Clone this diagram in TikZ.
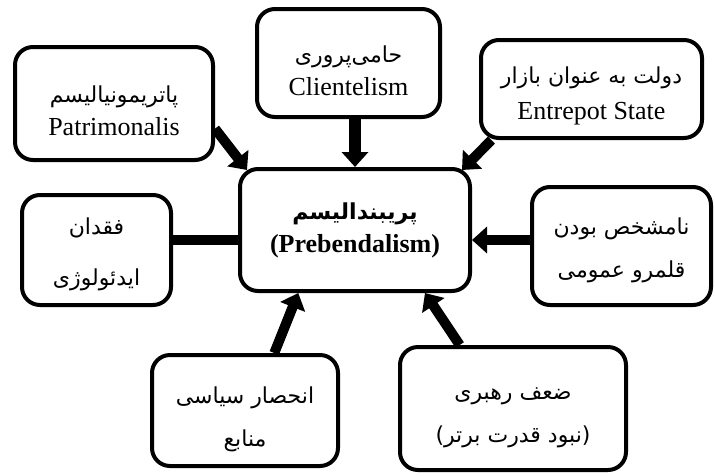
\documentclass[tikz,border=0pt]{standalone}
\usepackage{fontspec}
\setmainfont{Liberation Serif}
\newfontfamily\fa[Script=Arabic]{DejaVu Sans}
\TeXXeTstate=1
\usetikzlibrary{arrows.meta,calc}
\newcommand\fat[1]{{\fa\fontsize{22}{32}\selectfont\beginR #1\endR}}
\begin{document}
\begin{tikzpicture}[x=1pt,y=-1pt,
  box/.style={draw, line width=4pt, rounded corners=18pt, inner sep=0pt},
  txt/.style={align=center, inner sep=0pt, font=\fontsize{26}{33}\selectfont},
  conn/.style={line width=10pt, -{Triangle[length=15pt,width=26pt]}},
  bar/.style={line width=10pt}]
\useasboundingbox (0,0) rectangle (715,475);
% boxes
\node[box, minimum width=198, minimum height=113] (pat) at (114,103.5) {};
\node[box, minimum width=183, minimum height=108] (cli) at (348.5,63) {};
\node[box, minimum width=221, minimum height=98] (ent) at (591.5,89) {};
\node[box, minimum width=149, minimum height=110] (ide) at (96.5,250) {};
\node[box, minimum width=179, minimum height=118] (nam) at (621.5,246) {};
\node[box, minimum width=230, minimum height=122] (main) at (355,230) {};
\node[box, minimum width=186, minimum height=111] (inh) at (245,410.5) {};
\node[box, minimum width=226, minimum height=123] (zof) at (513,408.5) {};
% texts
\node[txt] (patt) at ($(pat)+(0,7)$) {\fat{پاتریمونیالیسم}\\Patrimonalis};
\node[txt] (clit) at ($(cli)+(0,8)$) {\fat{حامی‌پروری}\\Clientelism};
\node[txt] (entt) at ($(ent)+(0,7)$) {\fat{دولت به عنوان بازار}\\[3pt]Entrepot State};
\node[txt] (idet) at ($(ide)+(0,4)$) {\fat{فقدان}\\[18pt]\fat{ایدئولوژی}};
\node[txt] (namt) at ($(nam)+(0,4)$) {\fat{نامشخص بودن}\\[10pt]\fat{قلمرو عمومی}};
\node[txt] (maint) at ($(main)+(0,0)$) {{\bfseries\fat{پریبندالیسم}}\\\bfseries(Prebendalism)};
\node[txt] (inht) at ($(inh)+(0,9)$) {\fat{انحصار سیاسی}\\[10pt]\fat{منابع}};
\node[txt] (zoft) at ($(zof)+(0,9)$) {\fat{ضعف رهبری}\\[10pt]\fat{(نبود قدرت برتر)}};
% connectors
\draw[conn] (pat.-14) -- ($(main.north west)+(9,3)$);
\draw[conn, line width=12pt] (cli.south -| main.north) -- (main.north);
\draw[conn] (ent.207) -- ($(main.north east)+(-10,3)$);
\draw[bar] ($(ide.east)+(0,-10)$) -- ($(main.west)+(0,10)$);
\draw[conn] ($(nam.west)+(0,-6)$) -- ($(main.east)+(0,10)$);
\draw[conn] (inh.63) -- (main.228);
\draw[conn] (zof.130) -- (main.-42);
\end{tikzpicture}
\end{document}
